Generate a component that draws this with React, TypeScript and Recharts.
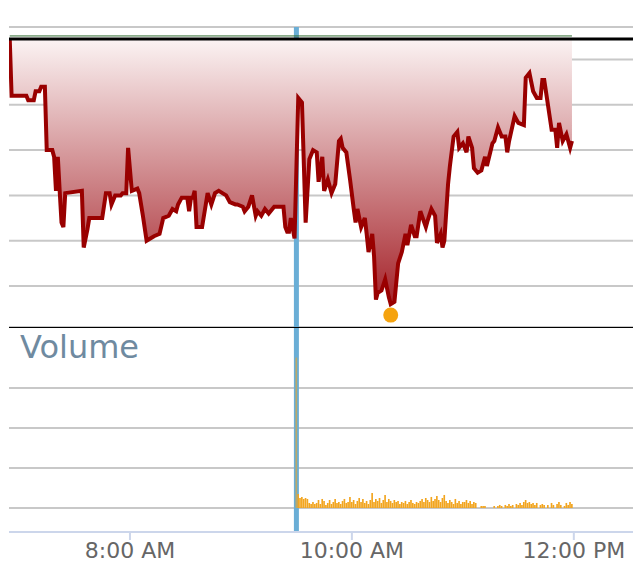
import React from "react";
import {
  ComposedChart, Area, Bar, Cell, XAxis, YAxis, CartesianGrid,
  ReferenceLine, ReferenceDot,
} from "recharts";

// price, minutes since midnight
const PRICE_TIMES = [
  415, 416, 424, 425, 428, 429, 431, 432, 434, 435,
  438, 439, 440, 441, 442, 443, 444, 445, 454, 455,
  457, 458, 465, 467, 469, 470, 472, 475, 476, 478,
  479, 481, 484, 485, 487, 489, 491, 493, 496, 498,
  501, 503, 505, 506, 508, 511, 512, 513, 514, 515,
  516, 519, 521, 522, 524, 526, 528, 530, 532, 534,
  537, 538, 541, 542, 544, 546, 548, 549, 551, 553,
  555, 557, 558, 563, 564, 565, 566, 567, 569, 571,
  573, 575, 577, 579, 581, 582, 584, 585, 587, 589,
  591, 593, 594, 595, 597, 599, 601, 602, 603, 605,
  607, 608, 609, 611, 612, 613, 614, 616, 618, 620,
  621, 623, 625, 627, 629, 630, 632, 634, 635, 637,
  640, 641, 643, 645, 646, 648, 649, 650, 652, 653,
  655, 657, 658, 660, 662, 663, 665, 666, 668, 670,
  672, 673, 676, 677, 679, 681, 683, 684, 685, 688,
  690, 693, 694, 696, 698, 700, 702, 703, 704, 706,
  708, 710, 711, 712, 714, 716, 718, 719,
];
const PRICES = [
  101.09, 100.84, 100.84, 100.82, 100.82, 100.86, 100.86, 100.88, 100.88, 100.60,
  100.60, 100.57, 100.42, 100.57, 100.42, 100.28, 100.26, 100.41, 100.42, 100.17,
  100.25, 100.30, 100.30, 100.41, 100.41, 100.36, 100.40, 100.40, 100.41, 100.41,
  100.61, 100.42, 100.43, 100.41, 100.31, 100.20, 100.21, 100.22, 100.23, 100.30,
  100.31, 100.34, 100.33, 100.36, 100.39, 100.39, 100.33, 100.39, 100.39, 100.42,
  100.26, 100.26, 100.36, 100.41, 100.36, 100.41, 100.42, 100.41, 100.40, 100.37,
  100.36, 100.36, 100.35, 100.33, 100.35, 100.40, 100.31, 100.33, 100.31, 100.34,
  100.32, 100.34, 100.35, 100.35, 100.26, 100.24, 100.24, 100.30, 100.21, 100.83,
  100.81, 100.28, 100.56, 100.60, 100.59, 100.46, 100.57, 100.42, 100.47, 100.41,
  100.45, 100.64, 100.65, 100.61, 100.59, 100.47, 100.34, 100.28, 100.34, 100.26,
  100.30, 100.23, 100.15, 100.23, 100.13, 99.94, 99.97, 99.98, 100.03, 99.95,
  99.92, 99.93, 100.10, 100.15, 100.23, 100.18, 100.27, 100.22, 100.22, 100.33,
  100.26, 100.29, 100.34, 100.31, 100.19, 100.23, 100.17, 100.20, 100.45, 100.53,
  100.66, 100.68, 100.61, 100.63, 100.59, 100.66, 100.61, 100.52, 100.50, 100.51,
  100.57, 100.53, 100.63, 100.64, 100.70, 100.66, 100.66, 100.59, 100.64, 100.75,
  100.72, 100.71, 100.92, 100.94, 100.86, 100.83, 100.83, 100.91, 100.91, 100.80,
  100.69, 100.69, 100.61, 100.72, 100.64, 100.67, 100.61, 100.64,
];

// one bar per minute from 9:30
const VOLUME_START = 570;
const VOLUMES = [
  188000, 17500, 12500, 13800, 11300, 12500, 11300, 6300, 5000, 7500,
  5000, 6300, 10000, 5000, 11300, 8800, 3800, 6300, 10000, 5000,
  7500, 11300, 6300, 7500, 5000, 8800, 11300, 6300, 7500, 13800,
  7500, 10000, 5000, 8800, 12500, 7500, 11300, 6300, 8800, 5000,
  10000, 18800, 7500, 11300, 8800, 12500, 6300, 10000, 16300, 7500,
  11300, 8800, 6300, 10000, 7500, 8800, 5000, 7500, 6300, 8800,
  5000, 7500, 10000, 6300, 5000, 7500, 6300, 8800, 11300, 7500,
  12500, 10000, 7500, 13800, 8800, 11300, 15000, 10000, 7500, 12500,
  16300, 8800, 6300, 10000, 7500, 5000, 11300, 6300, 8800, 5000,
  7500, 7500, 10000, 6300, 8800, 5000, 7500, 6300, 0, 0,
  2500, 2500, 2500, 0, 0, 0, 0, 2500, 0, 2500,
  3800, 2500, 0, 3800, 2500, 5000, 2500, 3800, 0, 5000,
  3800, 6300, 3800, 7500, 10000, 6300, 7500, 5000, 6300, 3800,
  6300, 0, 3800, 5000, 3800, 0, 3800, 0, 6300, 3800,
  0, 5000, 7500, 3800, 0, 2500, 6300, 3800, 7500, 5000,
];

const TICK_TIMES = [480, 600, 720];
const TICK_LABELS = ["8:00 AM", "10:00 AM", "12:00 PM"];
const PRICE_GRID = [100, 100.2, 100.4, 100.6, 100.8, 101];
const VOLUME_GRID = [0, 50000, 100000, 150000];
const OPEN_TIME = 570;
const PRICE_TOP = 101.09;
const PREV_LINE = 101.104;
const X_DOMAIN = [414.6, 752];
const PRICE_DOMAIN = [99.819, 101.1435];
const VOLUME_DOMAIN = [-30000, 226250];

const priceData = PRICE_TIMES.map((t, i) => ({ t, price: PRICES[i] }));
const volumeData = VOLUMES.map((volume, i) => ({ t: VOLUME_START + i, volume }));
const minIdx = PRICES.indexOf(Math.min(...PRICES));

const W = 633;
const layer: React.CSSProperties = { position: "absolute", left: 0, top: 0 };

// grid + open marker sit underneath the series charts
function Underlay({ data, height, margin, yDomain, yTicks }: any) {
  return (
    <ComposedChart width={W} height={height} data={data} margin={margin}>
      <XAxis type="number" dataKey="t" domain={X_DOMAIN} allowDataOverflow hide />
      <YAxis type="number" domain={yDomain} ticks={yTicks} allowDataOverflow hide />
      <CartesianGrid vertical={false} stroke="#c8c8c8" strokeWidth={2} />
      <ReferenceLine x={OPEN_TIME} stroke="#6aaed6" strokeWidth={5} />
    </ComposedChart>
  );
}

export default function App() {
  const topMargin = { top: 27, right: 0, left: 9, bottom: 3 };
  return (
    <div style={{ position: "absolute", left: 0, top: 0, width: W, height: 578, background: "#fff", fontFamily: "DejaVu Sans, Verdana, sans-serif", overflow: "hidden" }}>
      <div style={layer}>
        <Underlay data={priceData} height={330} margin={topMargin} yDomain={PRICE_DOMAIN} yTicks={PRICE_GRID} />
      </div>
      <div style={layer}>
        <ComposedChart width={W} height={330} data={priceData} margin={topMargin}>
          <defs>
            <linearGradient id="priceFill" x1="0" y1="0" x2="0" y2="1">
              <stop offset="0%" stopColor="#fbf3f3" />
              <stop offset="100%" stopColor="#a5232a" />
            </linearGradient>
          </defs>
          <XAxis type="number" dataKey="t" domain={X_DOMAIN} allowDataOverflow hide />
          <YAxis type="number" domain={PRICE_DOMAIN} allowDataOverflow hide />
          <Area
            type="linear"
            dataKey="price"
            stroke="#990000"
            strokeWidth={4}
            strokeLinejoin="miter"
            fill="url(#priceFill)"
            fillOpacity={1}
            baseValue={PRICE_TOP}
            dot={false}
            activeDot={false}
            isAnimationActive={false}
          />
          <ReferenceLine y={PRICE_TOP} stroke="#000" strokeWidth={3} />
          <ReferenceLine
            segment={[
              { x: PRICE_TIMES[0], y: PREV_LINE },
              { x: PRICE_TIMES[PRICE_TIMES.length - 1], y: PREV_LINE },
            ]}
            stroke="#2f6b2f"
            strokeWidth={1}
          />
          <ReferenceDot
            x={PRICE_TIMES[minIdx]}
            y={PRICES[minIdx]}
            shape={(p: any) => <circle cx={p.cx} cy={p.cy + 11} r={7.5} fill="#f5a30f" />}
          />
        </ComposedChart>
      </div>

      <div style={{ ...layer, top: 327 }}>
        <Underlay data={volumeData} height={251} margin={{ top: 0, right: 0, left: 9, bottom: 46 }} yDomain={VOLUME_DOMAIN} yTicks={VOLUME_GRID} />
      </div>
      <div style={{ ...layer, top: 327 }}>
        <ComposedChart width={W} height={251} data={volumeData} margin={{ top: 0, right: 0, left: 9, bottom: 0 }}>
          <XAxis
            type="number"
            dataKey="t"
            domain={X_DOMAIN}
            allowDataOverflow
            ticks={TICK_TIMES}
            interval={0}
            tickFormatter={(v) => TICK_LABELS[TICK_TIMES.indexOf(v)]}
            height={46}
            stroke="#ccd6eb"
            strokeWidth={2}
            tickSize={8}
            tickMargin={2}
            tick={{ fill: "#666666", fontSize: 22 }}
          />
          <YAxis type="number" domain={VOLUME_DOMAIN} allowDataOverflow hide />
          <Bar dataKey="volume" fill="#f2a51f" barSize={2} isAnimationActive={false}>
            {volumeData.map((d, i) => (
              <Cell key={i} fillOpacity={d.t === OPEN_TIME ? 0.6 : 1} />
            ))}
          </Bar>
          <ReferenceLine y={VOLUME_DOMAIN[1]} stroke="#000" strokeWidth={2} />
        </ComposedChart>
      </div>
      <div style={{ position: "absolute", left: 20, top: 331, fontSize: 32, lineHeight: "32px", color: "#6f8aa0" }}>
        Volume
      </div>
    </div>
  );
}
